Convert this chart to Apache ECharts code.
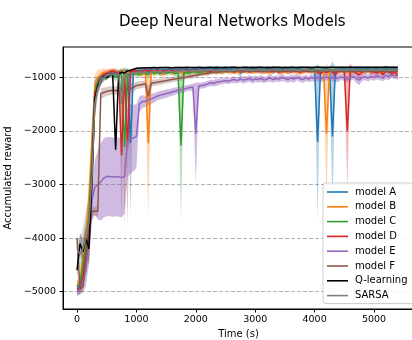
<!DOCTYPE html>
<html>
<head>
<meta charset="utf-8">
<script src="https://cdn.jsdelivr.net/npm/echarts@6/dist/echarts.min.js"></script>
<style>html,body{margin:0;padding:0;background:#fff}#c{width:412px;height:340px}</style>
</head>
<body>
<div id="c"></div>
<script>
const TIME = [0,50,100,150,200,250,300,350,400,450,500,550,600,650,700,750,800,850,900,950,
1000,1050,1100,1150,1200,1250,1300,1350,1400,1450,1500,1550,1600,1650,1700,1750,1800,1850,1900,1950,
2000,2050,2100,2150,2200,2250,2300,2350,2400,2450,2500,2550,2600,2650,2700,2750,2800,2850,2900,2950,
3000,3050,3100,3150,3200,3250,3300,3350,3400,3450,3500,3550,3600,3650,3700,3750,3800,3850,3900,3950,
4000,4050,4100,4150,4200,4250,4300,4350,4400,4450,4500,4550,4600,4650,4700,4750,4800,4850,4900,4950,
5000,5050,5100,5150,5200,5250,5300,5350,5400];

const X_TICKS = [0, 1000, 2000, 3000, 4000, 5000];
const Y_TICKS = [-5000, -4000, -3000, -2000, -1000];

const A_MEAN = [-4950,-4900,-4500,-4100,-3500,-2600,-1250,-1100,-1000,-960,
-950,-920,-900,-930,-900,-880,-900,-870,-2230,-900,
-880,-860,-870,-850,-860,-840,-870,-850,-840,-860,
-850,-840,-860,-845,-850,-835,-850,-840,-855,-845,
-840,-850,-835,-845,-830,-850,-840,-835,-845,-840,
-835,-850,-840,-830,-845,-920,-840,-835,-850,-840,
-835,-845,-840,-850,-835,-840,-830,-845,-840,-835,
-850,-840,-835,-845,-840,-830,-850,-860,-840,-835,
-845,-2200,-850,-840,-835,-845,-2100,-840,-850,-835,
-840,-845,-835,-850,-840,-830,-845,-840,-835,-845,
-840,-835,-850,-840,-830,-845,-840,-835,-840];
const A_SD = [100,150,250,300,350,400,200,100,80,60,
60,50,50,60,50,50,50,50,1350,50,
40,35,45,40,38,42,40,36,44,40,
38,40,42,36,40,44,38,40,42,36,
40,38,42,36,40,44,38,40,42,36,
40,38,42,36,40,80,38,40,42,36,
40,38,42,36,40,44,38,40,42,36,
40,38,42,36,40,44,38,40,42,36,
40,1450,42,36,40,44,1400,40,42,36,
40,38,42,36,40,44,38,40,42,36,
40,38,42,36,40,44,38,40,42];

const B_MEAN = [-4900,-4800,-4400,-4000,-3300,-2200,-1150,-1000,-950,-900,
-920,-880,-900,-870,-950,-880,-900,-920,-880,-900,
-920,-900,-950,-880,-2230,-900,-920,-880,-900,-950,
-900,-880,-920,-890,-870,-900,-940,-880,-900,-870,
-890,-910,-880,-900,-920,-870,-890,-900,-880,-910,
-870,-890,-900,-880,-910,-890,-870,-900,-880,-890,
-900,-870,-890,-880,-900,-910,-880,-870,-890,-900,
-880,-900,-870,-890,-910,-880,-900,-870,-890,-880,
-900,-880,-870,-890,-2050,-880,-900,-870,-890,-880,
-870,-890,-900,-880,-870,-900,-880,-890,-870,-900,
-880,-870,-890,-900,-880,-870,-890,-880,-870];
const B_SD = [100,200,300,350,400,400,200,150,100,80,
60,50,60,50,70,50,60,60,50,60,
60,50,70,50,1400,50,60,50,50,70,
50,45,55,50,45,50,60,45,50,45,
50,55,45,50,60,45,50,55,45,50,
45,50,55,45,50,60,45,50,55,45,
50,45,55,50,45,60,50,45,55,50,
45,50,55,45,60,50,45,55,50,45,
50,55,45,50,1300,45,50,55,45,50,
45,50,55,45,50,60,45,50,55,45,
50,45,55,50,45,60,50,45,55];

const C_MEAN = [-4900,-4850,-4500,-4100,-3600,-2500,-1250,-1100,-1050,-1000,
-980,-950,-960,-1000,-940,-950,-2300,-940,-940,-920,
-930,-950,-910,-920,-940,-900,-920,-910,-930,-900,
-920,-910,-900,-930,-910,-2270,-900,-920,-910,-900,
-890,-910,-900,-880,-900,-890,-870,-900,-880,-890,
-870,-880,-860,-880,-870,-860,-880,-850,-870,-860,
-850,-870,-860,-850,-870,-860,-850,-860,-870,-850,
-860,-850,-870,-860,-850,-860,-870,-850,-860,-850,
-860,-870,-850,-860,-850,-870,-860,-850,-860,-870,
-850,-860,-870,-850,-860,-850,-870,-860,-850,-860,
-850,-860,-850,-870,-860,-850,-860,-850,-850];
const C_SD = [100,150,250,300,350,400,200,120,80,60,
60,50,60,70,50,50,1500,50,50,50,
50,60,45,50,55,45,50,45,50,45,
50,45,45,55,45,1430,45,50,45,45,
45,50,45,40,45,40,40,45,40,40,
40,40,35,40,40,35,40,35,40,35,
35,40,35,35,40,35,35,35,40,35,
35,35,40,35,35,35,40,35,35,35,
35,40,35,35,35,40,35,35,35,40,
35,35,40,35,35,35,40,35,35,35,
35,35,35,40,35,35,35,35,35];

const D_MEAN = [-4950,-4950,-4700,-4300,-3800,-2800,-1300,-1150,-1050,-950,
-920,-900,-880,-900,-920,-2450,-900,-2300,-900,-880,
-870,-900,-880,-860,-890,-870,-880,-860,-900,-870,
-880,-870,-860,-890,-870,-880,-860,-870,-890,-860,
-870,-880,-860,-870,-880,-890,-870,-860,-880,-870,
-860,-880,-870,-890,-860,-870,-880,-860,-870,-880,
-870,-860,-880,-890,-870,-860,-880,-870,-900,-880,
-870,-890,-880,-860,-870,-900,-880,-870,-860,-880,
-870,-900,-930,-880,-910,-870,-900,-950,-880,-870,
-900,-2000,-880,-870,-920,-950,-900,-880,-870,-890,
-900,-920,-880,-950,-870,-890,-930,-900,-960];
const D_SD = [80,80,200,300,350,400,200,120,80,60,
60,50,50,50,60,1250,50,1450,50,50,
45,50,45,40,50,45,45,40,50,45,
45,40,40,50,45,45,40,45,50,40,
45,45,40,45,45,50,45,40,45,45,
40,45,45,50,40,45,45,40,45,45,
45,40,45,50,45,40,45,45,55,45,
45,50,45,40,45,55,45,45,40,45,
45,60,70,50,60,45,60,80,50,45,
60,1100,150,50,70,80,60,50,45,60,
60,70,50,80,45,60,70,60,90];

const E_MEAN = [-5000,-4950,-4800,-4600,-4100,-3300,-3050,-3000,-2950,-2880,
-2850,-2850,-2860,-2850,-2860,-2870,-2850,-2200,-2150,-2130,
-2100,-1500,-1450,-1450,-1420,-1400,-1380,-1350,-1330,-1320,
-1300,-1290,-1270,-1260,-1240,-1230,-1220,-1200,-1190,-1180,
-2050,-1160,-1150,-1140,-1120,-1100,-1110,-1090,-1080,-1070,
-1060,-1070,-1050,-1040,-1060,-1030,-1050,-1040,-1020,-1050,
-1030,-1040,-1020,-1050,-1030,-1010,-1040,-1020,-1030,-1000,
-1020,-1040,-1010,-1030,-1000,-1020,-1040,-1010,-1030,-1000,
-1020,-1000,-1030,-1010,-990,-1020,-1000,-1030,-1010,-990,
-1010,-1030,-1000,-980,-1020,-1050,-1000,-990,-1010,-980,
-1000,-970,-990,-1010,-960,-980,-950,-970,-960];
const E_SD = [80,100,200,300,400,400,500,650,720,740,
740,740,740,740,740,740,700,650,650,620,
600,150,120,100,100,90,90,80,80,80,
80,70,70,70,60,60,60,60,60,60,
950,60,55,60,55,60,55,70,60,55,
60,55,60,65,55,60,70,55,60,65,
60,55,65,60,55,70,60,55,60,65,
55,60,65,70,55,60,65,60,55,70,
60,65,55,70,60,55,65,60,70,60,
65,60,70,55,80,90,60,65,60,70,
60,70,65,60,80,70,60,65,70];

const F_MEAN = [-4000,-4950,-4900,-4400,-3900,-3500,-3500,-3500,-1300,-1280,
-1260,-1250,-1240,-1250,-1230,-1220,-1230,-1200,-1210,-1190,
-1150,-1140,-1130,-1120,-1350,-1110,-1100,-1090,-1080,-1070,
-1060,-1050,-1040,-1030,-1020,-1010,-1000,-990,-980,-970,
-960,-950,-940,-930,-920,-910,-905,-900,-895,-890,
-890,-880,-885,-895,-880,-890,-885,-880,-895,-885,
-880,-890,-885,-880,-890,-885,-895,-880,-885,-890,
-885,-880,-890,-885,-880,-895,-885,-880,-890,-885,
-880,-890,-885,-880,-895,-885,-880,-890,-885,-880,
-890,-885,-880,-895,-885,-880,-890,-885,-880,-890,
-885,-880,-890,-885,-880,-895,-885,-880,-885];
const F_SD = [100,80,120,250,300,100,80,100,100,90,
80,85,75,80,85,80,75,80,85,80,
70,70,65,65,200,60,60,60,55,55,
55,55,50,50,50,50,45,45,45,45,
45,40,40,40,40,40,35,35,35,35,
35,30,35,35,30,35,35,30,35,35,
30,35,35,30,35,35,30,35,35,30,
35,35,30,35,35,30,35,35,30,35,
35,30,35,35,30,35,35,30,35,35,
30,35,35,30,35,35,30,35,35,30,
35,35,30,35,35,30,35,35,30];

const Q_MEAN = [-4600,-4100,-4250,-4000,-4200,-3000,-1400,-1150,-1050,-980,
-1000,-960,-930,-2350,-940,-900,-920,-880,-870,-850,
-830,-825,-822,-820,-818,-820,-816,-818,-815,-817,
-814,-816,-818,-815,-813,-816,-814,-812,-815,-813,
-815,-812,-814,-816,-813,-811,-814,-812,-815,-813,
-811,-814,-812,-810,-813,-815,-812,-810,-813,-811,
-814,-812,-810,-813,-811,-814,-812,-810,-812,-814,
-811,-813,-810,-812,-814,-811,-809,-812,-810,-813,
-811,-809,-812,-810,-813,-811,-809,-812,-810,-808,
-811,-809,-812,-810,-808,-811,-809,-812,-810,-808,
-810,-808,-811,-809,-807,-810,-808,-811,-809];
const Q_SD = [150,200,200,250,300,500,300,150,100,60,
50,40,40,60,40,30,30,25,20,20,
12,10,11,12,10,11,10,12,11,10,
12,11,10,12,10,11,12,10,11,10,
11,12,10,11,10,12,11,10,12,11,
10,11,12,10,11,10,12,11,10,12,
11,10,12,11,10,11,12,10,11,10,
12,11,10,12,11,10,11,12,10,11,
10,12,11,10,12,11,10,11,12,10,
11,10,12,11,10,12,11,10,11,12,
10,11,12,10,11,10,12,11,10];

const S_MEAN = [-4200,-4300,-4200,-4000,-3700,-2900,-1500,-1200,-1050,-1000,
-970,-950,-940,-960,-930,-1500,-950,-920,-930,-910,
-920,-900,-910,-890,-920,-900,-880,-900,-890,-910,
-890,-880,-900,-870,-890,-880,-870,-890,-880,-870,
-880,-870,-860,-880,-870,-860,-870,-880,-860,-870,
-860,-870,-880,-860,-870,-860,-850,-870,-860,-870,
-860,-850,-870,-860,-870,-860,-850,-860,-870,-860,
-850,-860,-870,-850,-860,-870,-860,-850,-860,-870,
-860,-850,-870,-860,-850,-860,-870,-860,-850,-860,
-870,-860,-850,-860,-870,-850,-860,-870,-860,-850,
-860,-870,-850,-860,-870,-860,-850,-860,-850];
const S_SD = [200,300,400,500,500,500,300,150,100,80,
60,50,50,55,50,500,50,45,45,45,
45,40,40,40,45,40,40,40,40,40,
38,36,40,35,38,36,40,35,38,36,
35,38,36,40,35,38,36,35,40,38,
36,35,38,40,36,35,38,36,40,35,
38,36,35,40,38,36,35,38,36,40,
35,38,36,35,40,38,36,35,38,36,
40,35,38,36,35,40,38,36,35,38,
36,40,35,38,36,35,40,38,36,35,
38,36,40,35,38,36,35,40,38];

const NAMES = ['model A','model B','model C','model D','model E','model F','Q-learning','SARSA'];
const COLORS = ['#1f77b4','#ff7f0e','#2ca02c','#d62728','#9467bd','#8c564b','#000000','#7f7f7f'];
const MEANS = [A_MEAN,B_MEAN,C_MEAN,D_MEAN,E_MEAN,F_MEAN,Q_MEAN,S_MEAN];
const SDS = [A_SD,B_SD,C_SD,D_SD,E_SD,F_SD,Q_SD,S_SD];

const FONT = 'DejaVu Sans';
const series = [];
NAMES.forEach((name, k) => {
  const mean = MEANS[k], sd = SDS[k];
  series.push({
    type: 'custom', name: name + '_band', silent: true, clip: true, z: 1,
    coordinateSystem: 'cartesian2d',
    data: [[TIME[0], mean[0]]],
    renderItem: (params, api) => {
      const pts = [];
      for (let i = 0; i < TIME.length; i++) pts.push(api.coord([TIME[i], mean[i] + sd[i]]));
      for (let i = TIME.length - 1; i >= 0; i--) pts.push(api.coord([TIME[i], mean[i] - sd[i]]));
      return {
        type: 'polygon', shape: { points: pts },
        style: { fill: COLORS[k], opacity: k === 4 ? 0.45 : 0.32, stroke: 'none' }
      };
    }
  });
});
NAMES.forEach((name, k) => {
  series.push({
    type: 'line', name: name,
    data: TIME.map((t, i) => [t, MEANS[k][i]]),
    symbol: 'none', showSymbol: false,
    lineStyle: { color: COLORS[k], width: 1.5 },
    itemStyle: { color: COLORS[k] }, z: 3
  });
});

const fmt = v => (v % 1000 === 0) ? String(v).replace('-', '\u2212') : '';

const chart = echarts.init(document.getElementById('c'), null, { renderer: 'canvas' });
chart.setOption({
  animation: false,
  backgroundColor: '#ffffff',
  title: {
    text: 'Deep Neural Networks Models', left: 114, top: 10,
    textStyle: { fontFamily: FONT, fontSize: 15, fontWeight: 'normal', color: '#000' }
  },
  grid: { left: 63, top: 47, width: 351, height: 262, outerBoundsMode: 'none', containLabel: false,
    show: true, borderColor: '#000', borderWidth: 1, backgroundColor: 'transparent' },
  legend: {
    data: NAMES, orient: 'vertical', left: 323, top: 183, icon: 'rect',
    padding: [4, 6, 3, 4], itemWidth: 21, itemHeight: 1.6, itemGap: 4.8,
    backgroundColor: 'rgba(255,255,255,0.85)', borderColor: '#cccccc', borderWidth: 1, borderRadius: 3,
    textStyle: { fontFamily: FONT, fontSize: 10, lineHeight: 10, color: '#000', padding: [0, 0, 0, 2] }
  },
  xAxis: {
    type: 'value', min: -236, max: 5673,
    name: 'Time (s)', nameLocation: 'middle', nameGap: 19,
    nameTextStyle: { fontFamily: FONT, fontSize: 10, color: '#000' },
    axisLine: { show: true, onZero: false, lineStyle: { color: '#000', width: 1 } },
    axisTick: { show: true, length: 3.5, customValues: X_TICKS, lineStyle: { color: '#000' } },
    axisLabel: { formatter: fmt, customValues: X_TICKS, fontFamily: FONT, fontSize: 9.5, color: '#000', margin: 6 },
    splitLine: { show: false }
  },
  yAxis: {
    type: 'value', min: -5323, max: -432,
    name: 'Accumulated reward', nameLocation: 'middle', nameGap: 45, nameRotate: 90,
    nameTextStyle: { fontFamily: FONT, fontSize: 10, color: '#000' },
    axisLine: { show: true, onZero: false, lineStyle: { color: '#000', width: 1 } },
    axisTick: { show: true, length: 3.5, customValues: Y_TICKS, lineStyle: { color: '#000' } },
    axisLabel: { formatter: fmt, customValues: Y_TICKS, fontFamily: FONT, fontSize: 9.5, color: '#000', margin: 7 },
    splitLine: { show: true, lineStyle: { color: '#b0b0b0', type: [4, 2], width: 1 } }
  },
  series: series
});
</script>
</body>
</html>
